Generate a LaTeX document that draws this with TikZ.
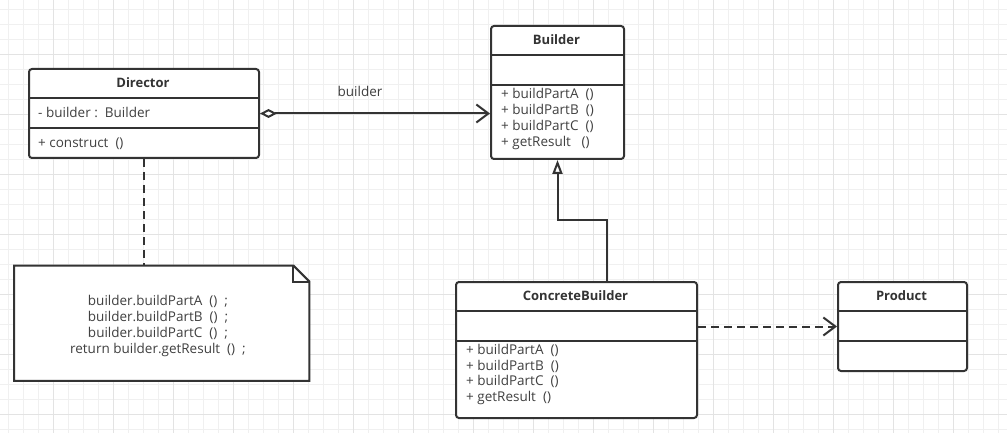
\documentclass[tikz,border=0pt]{standalone}
\usepackage{fontspec}
\setmainfont{Open Sans}
\usetikzlibrary{arrows.meta}
\definecolor{ink}{HTML}{333333}
\definecolor{txt}{HTML}{404040}
\definecolor{gminor}{HTML}{F0F0F0}
\definecolor{gmajor}{HTML}{E3E3E3}
\begin{document}
\begin{tikzpicture}[x=1pt,y=-1pt,
  cls/.style={draw=ink, line width=2pt, rounded corners=3pt, fill=white, inner sep=0pt, anchor=north west},
  divline/.style={draw=ink, line width=2pt},
  clstitle/.style={font=\fontsize{13}{15}\selectfont\bfseries, text=ink, inner sep=0pt, anchor=mid},
  member/.style={font=\fontsize{13.5}{16}\selectfont, text=txt, inner sep=0pt, anchor=mid west},
  conn/.style={draw=ink, line width=2pt},
  dashedconn/.style={conn, dash pattern=on 8pt off 5pt},
  openhead/.style={-{Straight Barb[length=12pt,width=18pt,line width=2pt]}},
]
\useasboundingbox (0,0) rectangle (1007,433);
\fill[white] (0,0) rectangle (1007,433);
% grid
\foreach \x in {8,23,...,1007} \draw[gminor, line width=1pt] (\x,0) -- (\x,433);
\foreach \y in {9.3,24.3,...,433} \draw[gminor, line width=1pt] (0,\y) -- (1007,\y);
\foreach \x in {53,113,...,1007} \draw[gmajor, line width=1pt] (\x,0) -- (\x,433);
\foreach \y in {54.3,114.3,...,433} \draw[gmajor, line width=1pt] (0,\y) -- (1007,\y);

% Director
\node[cls, minimum width=230pt, minimum height=89pt] (director) at (28,68) {};
\draw[divline] (28,98) -- (258,98);
\draw[divline] (28,128) -- (258,128);
\node[clstitle] (directorT) at (143,85) {Director};
\node[member] (directorA) at (38,115) {- builder :\ \ Builder};
\node[member] (directorM) at (38,145) {+ construct\ \ ()};

% Builder
\node[cls, minimum width=133pt, minimum height=133pt] (builder) at (490,25) {};
\draw[divline] (490,55) -- (623,55);
\draw[divline] (490,85.5) -- (623,85.5);
\node[clstitle] (builderT) at (556.5,42) {Builder};
\node[member] (builderM1) at (501,96) {+ buildPartA\ \ ()};
\node[member] (builderM2) at (501,112) {+ buildPartB\ \ ()};
\node[member] (builderM3) at (501,128) {+ buildPartC\ \ ()};
\node[member] (builderM4) at (501,144) {+ getResult\ \ \ ()};

% ConcreteBuilder
\node[cls, minimum width=241pt, minimum height=136pt] (cb) at (455,281) {};
\draw[divline] (455,311) -- (696,311);
\draw[divline] (455,341) -- (696,341);
\node[clstitle] (cbT) at (575.5,298) {ConcreteBuilder};
\node[member] (cbM1) at (466,352) {+ buildPartA\ \ ()};
\node[member] (cbM2) at (466,368) {+ buildPartB\ \ ()};
\node[member] (cbM3) at (466,383) {+ buildPartC\ \ ()};
\node[member] (cbM4) at (466,399) {+ getResult\ \ ()};

% Product
\node[cls, minimum width=129pt, minimum height=89pt] (product) at (837,281) {};
\draw[divline] (837,311) -- (966,311);
\draw[divline] (837,341) -- (966,341);
\node[clstitle] (productT) at (901.5,298) {Product};

% Note
\node[inner sep=0pt, minimum width=295pt, minimum height=115pt, anchor=north west] (note) at (14,265.5) {};
\draw[ink, line width=2pt, fill=white] (note.north west) -- ([xshift=-16pt]note.north east) -- ([yshift=-16pt]note.north east) -- (note.south east) -- (note.south west) -- cycle;
\draw[ink, line width=2pt] ([xshift=-16pt]note.north east) -- ([xshift=-16pt,yshift=-16pt]note.north east) -- ([yshift=-16pt]note.north east);
\node[font=\fontsize{13.5}{16}\selectfont, text=txt, align=center, inner sep=0pt] (noteT) at (158,325.5)
  {builder.buildPartA\ \ ()\ \ ;\\ builder.buildPartB\ \ ()\ \ ;\\ builder.buildPartC\ \ ()\ \ ;\\ return builder.getResult\ \ ()\ \ ;};

% connectors
\draw[dashedconn] (director.south) -- (director.south |- note.north);
\draw[conn, {Diamond[open,fill=white,length=17pt,width=9pt,line width=2pt]}-{Straight Barb[length=12pt,width=18pt,line width=2pt]}]
  (director.east) -- (director.east -| builder.west);
\node[member, anchor=mid] (aggLabel) at (360,94) {builder};
\coordinate (inhStart) at (607,281);
\draw[conn, -{Triangle[open,fill=white,length=14pt,width=10pt,line width=2pt]}] (inhStart) -- (607,220) -| (builder.south);
\draw[dashedconn, openhead] (product.west -| cb.east) -- (product.west);
\end{tikzpicture}
\end{document}
